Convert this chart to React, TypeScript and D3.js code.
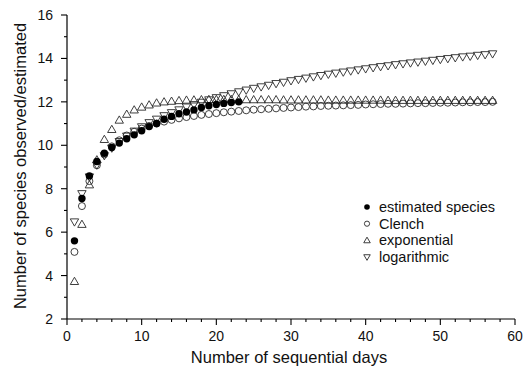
import React from "react";
import * as d3 from "d3";

const estimated = [5.6, 7.55, 8.59, 9.25, 9.63, 9.9, 10.1, 10.3, 10.48, 10.67, 10.86, 11.0, 11.2, 11.33, 11.45, 11.53, 11.63, 11.74, 11.82, 11.88, 11.93, 11.97, 12.0];

const clench = [5.09, 7.2, 8.35, 9.08, 9.58, 9.95, 10.23, 10.45, 10.62, 10.77, 10.89, 11.0, 11.09, 11.17, 11.24, 11.3, 11.35, 11.4, 11.44, 11.48, 11.52, 11.55, 11.58, 11.61, 11.64, 11.66, 11.68, 11.7, 11.72, 11.74, 11.76, 11.78, 11.79, 11.81, 11.82, 11.83, 11.84, 11.85, 11.86, 11.88, 11.89, 11.9, 11.91, 11.91, 11.92, 11.93, 11.94, 11.94, 11.95, 11.96, 11.96, 11.97, 11.98, 11.98, 11.99, 11.99, 12.0];

const exponential = [3.7, 6.33, 8.15, 9.3, 10.24, 10.7, 11.13, 11.4, 11.6, 11.73, 11.83, 11.92, 11.97, 12.0, 12.03, 12.05, 12.06, 12.07, 12.08, 12.08, 12.08, 12.08, 12.07, 12.07, 12.07, 12.07, 12.07, 12.07, 12.06, 12.06, 12.06, 12.06, 12.06, 12.06, 12.05, 12.05, 12.05, 12.05, 12.05, 12.05, 12.05, 12.05, 12.04, 12.04, 12.04, 12.04, 12.04, 12.04, 12.04, 12.04, 12.04, 12.04, 12.04, 12.04, 12.04, 12.04, 12.04];

const logarithmic = [6.5, 7.8, 8.57, 9.12, 9.55, 9.9, 10.2, 10.45, 10.68, 10.88, 11.07, 11.23, 11.39, 11.53, 11.66, 11.79, 11.9, 12.01, 12.12, 12.22, 12.31, 12.4, 12.49, 12.57, 12.65, 12.72, 12.79, 12.87, 12.93, 13.0, 13.06, 13.12, 13.18, 13.24, 13.3, 13.35, 13.4, 13.45, 13.5, 13.55, 13.6, 13.65, 13.69, 13.74, 13.78, 13.82, 13.86, 13.9, 13.94, 13.98, 14.02, 14.06, 14.1, 14.13, 14.17, 14.2, 14.24];

const xTicks = [0, 10, 20, 30, 40, 50, 60];
const yTicks = [2, 4, 6, 8, 10, 12, 14, 16];
const legendLabels = ["estimated species", "Clench", "exponential", "logarithmic"];

const W = 523, H = 372;
const x = d3.scaleLinear().domain([0, 60]).range([67, 515]);
const y = d3.scaleLinear().domain([2, 16]).range([319, 15]);

const FONT = "'Liberation Sans', Arial, Helvetica, sans-serif";
const STROKE = "#2a2a2a";

function tri(cx: number, cy: number, s: number, up: boolean) {
  const h = s * 0.866;
  if (up) {
    return `M${cx},${cy - (2 * h) / 3}L${cx + s / 2},${cy + h / 3}L${cx - s / 2},${cy + h / 3}Z`;
  }
  return `M${cx},${cy + (2 * h) / 3}L${cx + s / 2},${cy - h / 3}L${cx - s / 2},${cy - h / 3}Z`;
}

export default function App() {
  const xMinor = d3.range(0, 61, 2);
  const yMinor = d3.range(2, 17, 1);
  return (
    <svg width={W} height={H} style={{ position: "absolute", left: 0, top: 0, background: "#fff" }}>
      {/* axes */}
      <line x1={x(0)} x2={x(60)} y1={y(2)} y2={y(2)} stroke="#000" strokeWidth={1.2} />
      <line x1={x(0)} x2={x(0)} y1={y(2)} y2={y(16)} stroke="#000" strokeWidth={1.2} />
      {xMinor.map((t) => (
        <line key={"xm" + t} x1={x(t)} x2={x(t)} y1={y(2)} y2={y(2) + (t % 10 === 0 ? 6 : 3)} stroke="#000" strokeWidth={1.1} />
      ))}
      {yMinor.map((t) => (
        <line key={"ym" + t} x1={x(0) - (t % 2 === 0 ? 6 : 3)} x2={x(0)} y1={y(t)} y2={y(t)} stroke="#000" strokeWidth={1.1} />
      ))}
      {xTicks.map((t) => (
        <text key={"xt" + t} x={x(t)} y={341} textAnchor="middle" fontFamily={FONT} fontSize={14} fill="#111">
          {t}
        </text>
      ))}
      {yTicks.map((t) => (
        <text key={"yt" + t} x={53} y={y(t) + 5} textAnchor="end" fontFamily={FONT} fontSize={14} fill="#111">
          {t}
        </text>
      ))}
      <text x={289} y={363} textAnchor="middle" fontFamily={FONT} fontSize={16.5} fill="#111">
        Number of sequential days
      </text>
      <text transform={`translate(26,166) rotate(-90)`} textAnchor="middle" fontFamily={FONT} fontSize={16.5} fill="#111">
        Number of species observed/estimated
      </text>

      {/* series */}
      {logarithmic.map((v, i) => (
        <path key={"lg" + i} d={tri(x(i + 1), y(v), 8.4, false)} fill="none" stroke={STROKE} strokeWidth={0.9} />
      ))}
      {exponential.map((v, i) => (
        <path key={"ex" + i} d={tri(x(i + 1), y(v), 8.4, true)} fill="none" stroke={STROKE} strokeWidth={0.9} />
      ))}
      {clench.map((v, i) => (
        <circle key={"cl" + i} cx={x(i + 1)} cy={y(v)} r={3.5} fill="none" stroke={STROKE} strokeWidth={0.9} />
      ))}
      {estimated.map((v, i) => (
        <circle key={"es" + i} cx={x(i + 1)} cy={y(v)} r={3.7} fill="#000" />
      ))}

      {/* legend */}
      {legendLabels.map((lab, i) => {
        const ly = 207 + i * 16.7;
        const mx = 367;
        return (
          <g key={"lg-" + i}>
            {i === 0 && <circle cx={mx} cy={ly} r={2.8} fill="#000" />}
            {i === 1 && <circle cx={mx} cy={ly} r={2.6} fill="none" stroke={STROKE} strokeWidth={0.9} />}
            {i === 2 && <path d={tri(mx, ly + 0.5, 6.5, true)} fill="none" stroke={STROKE} strokeWidth={0.9} />}
            {i === 3 && <path d={tri(mx, ly - 0.5, 6.5, false)} fill="none" stroke={STROKE} strokeWidth={0.9} />}
            <text x={379} y={ly + 5} fontFamily={FONT} fontSize={14.5} fill="#111">
              {lab}
            </text>
          </g>
        );
      })}
    </svg>
  );
}
